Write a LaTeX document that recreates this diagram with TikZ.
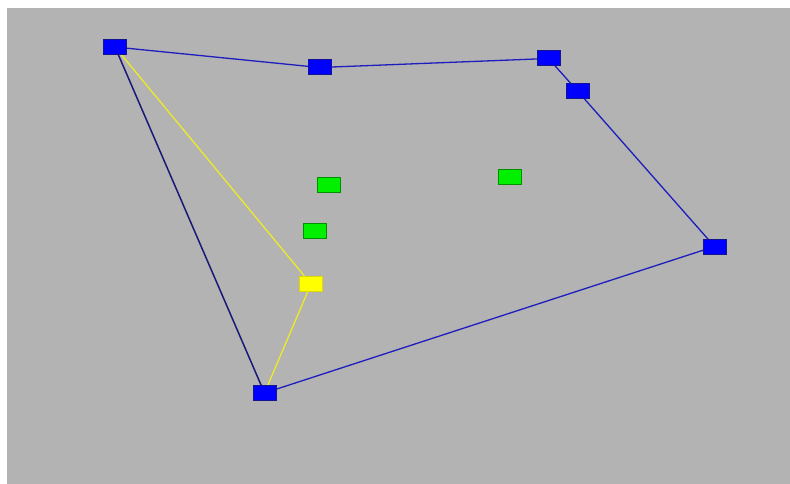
\documentclass[tikz,border=0pt]{standalone}
\pgfdeclarelayer{canvas}
\pgfdeclarelayer{edges}
\pgfsetlayers{canvas,edges,main}
\definecolor{panel}{RGB}{179,179,179}
\definecolor{hullblue}{RGB}{0,0,255}
\definecolor{hullline}{RGB}{30,30,190}
\definecolor{hulldark}{RGB}{25,25,120}
\definecolor{pointgreen}{RGB}{0,240,0}
\definecolor{pointyellow}{RGB}{255,255,0}
\definecolor{triline}{RGB}{235,235,40}
\tikzset{
  marker/.style={rectangle, inner sep=0pt, minimum width=23pt, minimum height=15pt, line width=1pt},
  hullpt/.style={marker, fill=hullblue, draw=hulldark!80!hullblue},
  innerpt/.style={marker, fill=pointgreen, draw=pointgreen!60!black},
  activept/.style={marker, fill=pointyellow, draw=pointyellow!85!black},
  hulledge/.style={draw=hullline, line width=1.3pt},
  hulledgedark/.style={draw=hulldark, line width=1.5pt},
  triedge/.style={draw=triline, line width=1.3pt}
}
\begin{document}
\begin{tikzpicture}[x=1pt,y=-1pt]
  \useasboundingbox (0,0) rectangle (790,484);
  \begin{pgfonlayer}{canvas}
    \fill[white] (0,0) rectangle (790,484);
    \fill[panel] (7,8) rectangle (790,484);
  \end{pgfonlayer}

  % hull vertices
  \node[hullpt] (a) at (115,47) {};
  \node[hullpt] (b) at (319.5,67.5) {};
  \node[hullpt] (c) at (548.5,58.5) {};
  \node[hullpt] (d) at (577.5,91) {};
  \node[hullpt] (e) at (714.5,246.5) {};
  \node[hullpt] (f) at (264.5,393) {};

  % current point
  \node[activept] (y) at (311,284) {};

  % interior points
  \node[innerpt] (g1) at (329,185) {};
  \node[innerpt] (g2) at (315,230.5) {};
  \node[innerpt] (g3) at (510,177) {};

  \begin{pgfonlayer}{edges}
    \draw[hulledge] (a.center) -- (b.center) -- (c.center) -- (d.center) -- (e.center) -- (f.center);
    \draw[hulledgedark] (f.center) -- (a.center);
    \draw[triedge] (a.center) -- (y.center) -- (f.center);
  \end{pgfonlayer}
\end{tikzpicture}
\end{document}
